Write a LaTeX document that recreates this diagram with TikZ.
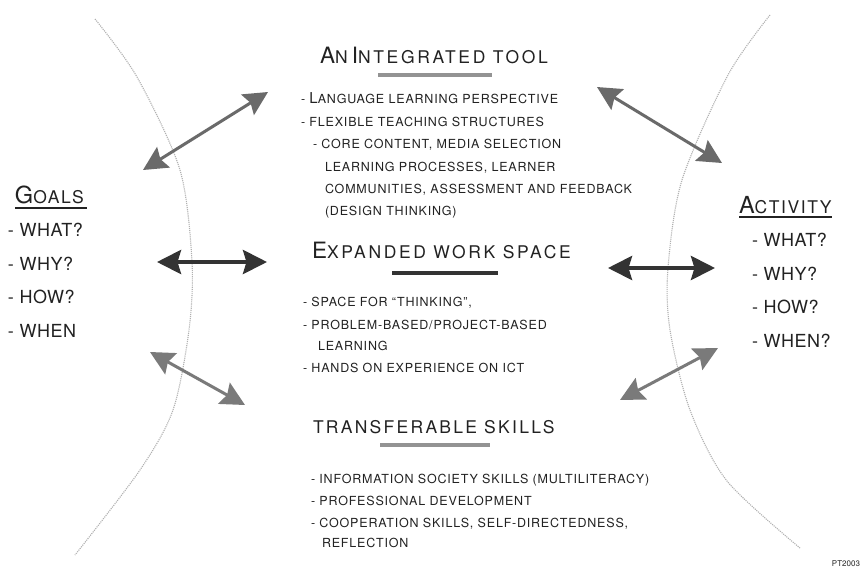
\documentclass[tikz,border=0pt]{standalone}
\usepackage{fontspec}
\setmainfont{TeX Gyre Heros}
\newfontfamily\bodyfont{TeX Gyre Heros}[LetterSpace=6.5]
\newfontfamily\headfont{TeX Gyre Heros}[LetterSpace=15]
\newfontfamily\headfontb{TeX Gyre Heros}[LetterSpace=13]
\newfontfamily\sidefont{TeX Gyre Heros}[LetterSpace=3]
\newfontfamily\sideheadfont{TeX Gyre Heros}[LetterSpace=9]
\usetikzlibrary{arrows.meta}
\definecolor{ink}{HTML}{222222}
\definecolor{darkarr}{HTML}{333333}
\definecolor{midarr}{HTML}{6A6A6A}
\definecolor{lightarr}{HTML}{7A7A7A}
\definecolor{curvecol}{HTML}{B0B0B0}
\newcommand\tbig[1]{{\fontsize{22.5}{22.5}\selectfont #1}}
\newcommand\tsm[1]{{\fontsize{17.5}{17.5}\selectfont #1}}
\newcommand\sbig[1]{{\fontsize{23.5}{23.5}\selectfont #1}}
\newcommand\ssm[1]{{\fontsize{17.5}{17.5}\selectfont #1}}
\tikzset{
  every node/.style={inner sep=0pt, outer sep=0pt, text=ink},
  headtxt/.style={anchor=base west, font=\headfont},
  bodytxt/.style={anchor=base west, font=\bodyfont\fontsize{12.5}{14}\selectfont},
  sidetxt/.style={anchor=base west, font=\sidefont\fontsize{18}{20}\selectfont},
  bar/.style={line width=4pt},
  sidebar/.style={line width=2pt, draw=ink},
  arrtip/.tip={Stealth[length=24pt,width=24pt,inset=3.5pt]},
  dblarr/.style={arrtip-arrtip, line width=3pt},
  curve/.style={draw=curvecol, densely dotted, line width=1.1pt}
}
\begin{document}
\begin{tikzpicture}[x=1pt,y=-1pt]
\useasboundingbox (0,0) rectangle (863,574);
\fill[white] (0,0) rectangle (863,574);

% curves
\draw[curve] plot[smooth] coordinates {(95,19) (137,77) (180,170) (192,262) (189,330) (173,410) (140,470) (75,555)};
\draw[curve] plot[smooth] coordinates {(770,15) (728,75) (682,180) (668,268) (670,330) (690,410) (727,481) (800,548)};

% titles
\node[headtxt] (t1) at (320,63) {\tbig{A}\tsm{N} \tbig{I}\tsm{NTEGRATED TOOL}};
\coordinate (u1a) at (378,75); \coordinate (u1b) at (492,75);
\draw[bar, draw=gray!85] (u1a) -- (u1b);

\node[headtxt] (t2) at (312,258) {\tbig{E}\tsm{XPANDED WORK SPACE}};
\coordinate (u2a) at (392,273); \coordinate (u2b) at (498,273);
\draw[bar, draw=darkarr] (u2a) -- (u2b);

\node[headtxt, font=\headfontb\fontsize{17.5}{18}\selectfont] (t3) at (313,433) {TRANSFERABLE SKILLS};
\coordinate (u3a) at (380,445); \coordinate (u3b) at (490,445);
\draw[bar, draw=gray!85] (u3a) -- (u3b);

% block 1
\node[bodytxt] (b11) at (301,103.5) {- {\fontsize{15}{15}\selectfont L}ANGUAGE LEARNING PERSPECTIVE};
\node[bodytxt] (b12) at (301,126.5) {- FLEXIBLE TEACHING STRUCTURES};
\node[bodytxt] (b13) at (313,148.5) {- CORE CONTENT, MEDIA SELECTION};
\node[bodytxt] (b14) at (325,171.5) {LEARNING PROCESSES, LEARNER};
\node[bodytxt] (b15) at (325,193.5) {COMMUNITIES, ASSESSMENT AND FEEDBACK};
\node[bodytxt] (b16) at (325,215.5) {(DESIGN THINKING)};

% block 2
\node[bodytxt] (b21) at (303,306.5) {- SPACE FOR “THINKING”,};
\node[bodytxt] (b22) at (303,329.5) {- PROBLEM-BASED/PROJECT-BASED};
\node[bodytxt] (b23) at (318,350.5) {LEARNING};
\node[bodytxt] (b24) at (303,372.5) {- HANDS ON EXPERIENCE ON ICT};

% block 3
\node[bodytxt] (b31) at (311,483.5) {- INFORMATION SOCIETY SKILLS (MULTILITERACY)};
\node[bodytxt] (b32) at (311,505.5) {- PROFESSIONAL DEVELOPMENT};
\node[bodytxt] (b33) at (311,527.5) {- COOPERATION SKILLS, SELF-DIRECTEDNESS,};
\node[bodytxt] (b34) at (322,547.5) {REFLECTION};

% goals
\node[anchor=base west, font=\sideheadfont] (g) at (15,203) {\sbig{G}\ssm{OALS}};
\coordinate (gua) at (15,208); \coordinate (gub) at (87,208);
\draw[sidebar] (gua) -- (gub);
\node[sidetxt] (g1) at (8,236.5) {- WHAT?};
\node[sidetxt] (g2) at (8,270) {- WHY?};
\node[sidetxt] (g3) at (8,303.5) {- HOW?};
\node[sidetxt] (g4) at (8,337.5) {- WHEN};

% activity
\node[anchor=base west, font=\sideheadfont] (ac) at (739,213) {\sbig{A}\ssm{CTIVITY}};
\coordinate (aua) at (739,217); \coordinate (aub) at (832,217);
\draw[sidebar] (aua) -- (aub);
\node[sidetxt] (a1) at (752,246.5) {- WHAT?};
\node[sidetxt] (a2) at (752,280.5) {- WHY?};
\node[sidetxt] (a3) at (752,313.5) {- HOW?};
\node[sidetxt] (a4) at (752,347.5) {- WHEN?};

% arrows left
\coordinate (l1a) at (143,170); \coordinate (l1b) at (268,92);
\draw[dblarr, draw=midarr, fill=midarr] (l1a) -- (l1b);
\coordinate (l2a) at (157,262); \coordinate (l2b) at (267,262);
\draw[dblarr, draw=darkarr, fill=darkarr, line width=4pt] (l2a) -- (l2b);
\coordinate (l3a) at (150,352); \coordinate (l3b) at (245,405);
\draw[dblarr, draw=lightarr, fill=lightarr] (l3a) -- (l3b);

% arrows right
\coordinate (r1a) at (597,87); \coordinate (r1b) at (722,163);
\draw[dblarr, draw=midarr, fill=midarr] (r1a) -- (r1b);
\coordinate (r2a) at (608,268); \coordinate (r2b) at (715,268);
\draw[dblarr, draw=darkarr, fill=darkarr, line width=4pt] (r2a) -- (r2b);
\coordinate (r3a) at (620,400); \coordinate (r3b) at (718,348);
\draw[dblarr, draw=lightarr, fill=lightarr] (r3a) -- (r3b);

\node[anchor=base east, font=\fontsize{8}{8}\selectfont] (pt) at (860,566) {PT2003};
\end{tikzpicture}
\end{document}
